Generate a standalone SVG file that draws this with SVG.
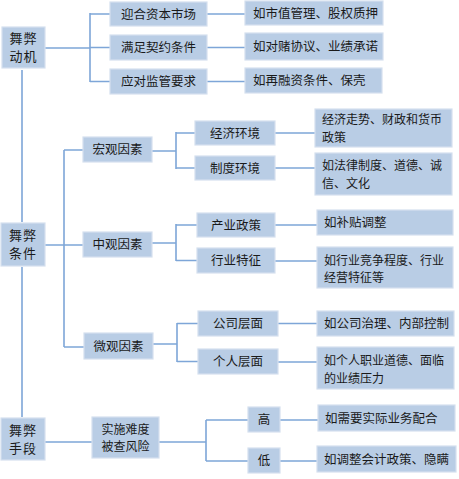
<svg xmlns="http://www.w3.org/2000/svg" width="459" height="479" viewBox="0 0 459 479">
<style>
.b{fill:#b9cde5;stroke:#d5e0ee;stroke-width:1.2}
.t{font-family:"Noto Sans CJK SC","Liberation Sans",sans-serif;font-size:12.5px;fill:#1a1a1a}
.s{font-size:12px}
.c{text-anchor:middle}
.k{font-size:13px;letter-spacing:1px}
.l{fill:none;stroke:#7ea6d8;stroke-width:1.6}
</style>
<rect width="459" height="479" fill="#ffffff"/>
<g id="connectors">
<path class="l" d="M22 70V222M22 267V417"/>
<path class="l" d="M45 48H90M90 13V82M90 14H110M90 47.5H110M90 81.5H110M207 14H245M207 47.5H245M207 81.5H245"/>
<path class="l" d="M45 245H83M64 150V347M64 150H83M64 347H84"/>
<path class="l" d="M152 151H176M176 132V169M176 133H195M176 168H195M275 133H315M275 168H315"/>
<path class="l" d="M152 243H176M176 224V261M176 225H197M176 260.5H197M275 225H317M275 261H317"/>
<path class="l" d="M153 344H177M177 323V362M177 323.5H198M177 361.5H198M278 323.5H317M278 362H317"/>
<path class="l" d="M45 442H92M159 442H206M206 420V461M206 420H248M206 461H248M280 420H318M280 461H317"/>
</g>
<g id="n_dongji"><rect class="b" x="2" y="27" width="43" height="41"/><text class="t k c" x="23.5" y="43">舞弊</text><text class="t k c" x="23.5" y="61">动机</text></g>
<g id="n_yinghe"><rect class="b" x="110" y="2" width="97" height="24"/><text class="t c" x="158.5" y="18.5">迎合资本市场</text></g>
<g id="n_manzu"><rect class="b" x="110" y="35" width="97" height="25"/><text class="t c" x="158.5" y="52">满足契约条件</text></g>
<g id="n_yingdui"><rect class="b" x="110" y="69" width="97" height="25"/><text class="t c" x="158.5" y="86">应对监管要求</text></g>
<g id="n_d1"><rect class="b" x="245" y="1" width="138" height="24"/><text class="t" x="253" y="17.5">如市值管理、股权质押</text></g>
<g id="n_d2"><rect class="b" x="245" y="33" width="138" height="27"/><text class="t" x="253" y="51">如对赌协议、业绩承诺</text></g>
<g id="n_d3"><rect class="b" x="245" y="68" width="137" height="25"/><text class="t" x="253" y="85">如再融资条件、保壳</text></g>
<g id="n_tiaojian"><rect class="b" x="1" y="223" width="44" height="43"/><text class="t k c" x="23" y="240">舞弊</text><text class="t k c" x="23" y="258">条件</text></g>
<g id="n_hongguan"><rect class="b" x="83" y="137" width="69" height="25"/><text class="t c" x="117.5" y="154">宏观因素</text></g>
<g id="n_zhongguan"><rect class="b" x="83" y="232" width="69" height="25"/><text class="t c" x="117.5" y="249">中观因素</text></g>
<g id="n_weiguan"><rect class="b" x="84" y="333" width="69" height="26"/><text class="t c" x="118.5" y="350.5">微观因素</text></g>
<g id="n_jingji"><rect class="b" x="195" y="121" width="80" height="24"/><text class="t c" x="235" y="137.5">经济环境</text></g>
<g id="n_zhidu"><rect class="b" x="195" y="156" width="80" height="24"/><text class="t c" x="235" y="172.5">制度环境</text></g>
<g id="n_d4"><rect class="b" x="315" y="109" width="137" height="38"/><text class="t s" x="322" y="124">经济走势、财政和货币</text><text class="t s" x="322" y="141.5">政策</text></g>
<g id="n_d5"><rect class="b" x="315" y="153" width="137" height="42"/><text class="t s" x="322" y="170">如法律制度、道德、诚</text><text class="t s" x="322" y="187.5">信、文化</text></g>
<g id="n_chanye"><rect class="b" x="197" y="213" width="78" height="24"/><text class="t c" x="236" y="229.5">产业政策</text></g>
<g id="n_hangye"><rect class="b" x="197" y="248" width="78" height="25"/><text class="t c" x="236" y="265">行业特征</text></g>
<g id="n_d6"><rect class="b" x="317" y="210" width="136" height="25"/><text class="t" x="324" y="227">如补贴调整</text></g>
<g id="n_d7"><rect class="b" x="317" y="247" width="136" height="41"/><text class="t s" x="324" y="264.5">如行业竞争程度、行业</text><text class="t s" x="324" y="282">经营特征等</text></g>
<g id="n_gongsi"><rect class="b" x="198" y="311" width="80" height="25"/><text class="t c" x="238" y="328">公司层面</text></g>
<g id="n_geren"><rect class="b" x="198" y="349" width="80" height="25"/><text class="t c" x="238" y="366">个人层面</text></g>
<g id="n_d8"><rect class="b" x="317" y="311" width="137" height="25"/><text class="t" x="324" y="328">如公司治理、内部控制</text></g>
<g id="n_d9"><rect class="b" x="317" y="347" width="137" height="42"/><text class="t s" x="324" y="365">如个人职业道德、面临</text><text class="t s" x="324" y="382.5">的业绩压力</text></g>
<g id="n_shouduan"><rect class="b" x="1" y="418" width="44" height="42"/><text class="t k c" x="23" y="434.5">舞弊</text><text class="t k c" x="23" y="452.5">手段</text></g>
<g id="n_nandu"><rect class="b" x="92" y="417" width="67" height="41"/><text class="t s c" x="125.5" y="433.5">实施难度</text><text class="t s c" x="125.5" y="451">被查风险</text></g>
<g id="n_gao"><rect class="b" x="248" y="407" width="32" height="25"/><text class="t c" x="264" y="424">高</text></g>
<g id="n_di"><rect class="b" x="248" y="448" width="32" height="25"/><text class="t c" x="264" y="465">低</text></g>
<g id="n_d10"><rect class="b" x="318" y="405" width="137" height="26"/><text class="t" x="325" y="422.5">如需要实际业务配合</text></g>
<g id="n_d11"><rect class="b" x="317" y="446" width="139" height="26"/><text class="t" x="324" y="463.5">如调整会计政策、隐瞒</text></g>
</svg>
